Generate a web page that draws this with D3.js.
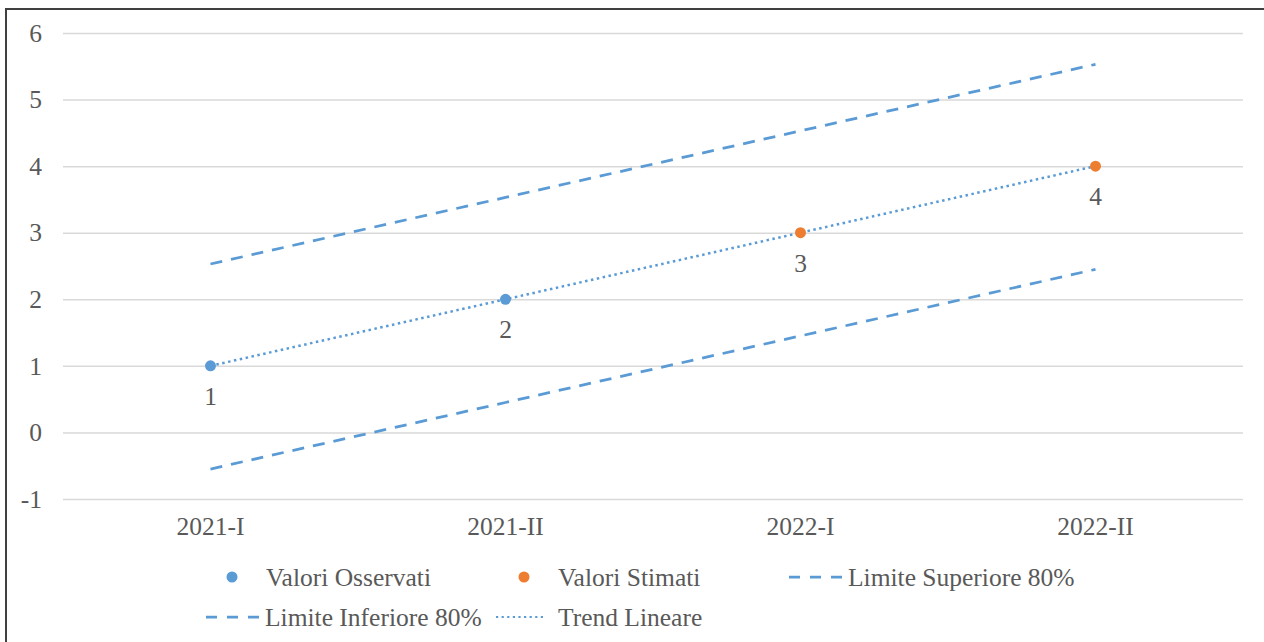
<!DOCTYPE html>
<html>
<head>
<meta charset="utf-8">
<script src="https://cdn.jsdelivr.net/npm/d3@7"></script>
<style>
  body { margin: 0; background: #fff; }
</style>
</head>
<body>
<div id="chart"></div>
<script>
// categories and series
const periods = ["2021-I", "2021-II", "2022-I", "2022-II"]
const observed = [1, 2, null, null]
const estimated = [null, null, 3, 4]
const upper80 = [2.53, 3.53, 4.53, 5.53]
const lower80 = [-0.55, 0.45, 1.45, 2.45]
const trend = [1, 2, 3, 4]
const yTicks = [-1, 0, 1, 2, 3, 4, 5, 6]

const width = 1264, height = 642
const margin = {top: 33, right: 21, bottom: 143, left: 63}

const blue = "#5b9bd5", orange = "#ed7d31"
const serif = "'Liberation Serif', 'DejaVu Serif', serif"
const textColor = "#595959"
const fontSize = "25.5px"

const svg = d3.select("#chart").append("svg")
  .attr("width", width)
  .attr("height", height)
  .style("font-family", serif)

// outer frame (only top and left visible in the picture)
svg.append("path")
  .attr("d", `M6,${height} L6,9 L${width},9`)
  .attr("fill", "none")
  .attr("stroke", "#404040")
  .attr("stroke-width", 2)

const x = d3.scaleBand()
  .domain(periods)
  .range([margin.left, width - margin.right])

const y = d3.scaleLinear()
  .domain([-1, 6])
  .range([height - margin.bottom, margin.top])

const cx = d => x(d) + x.bandwidth() / 2

// gridlines
const yAxis = d3.axisLeft(y)
  .tickValues(yTicks)
  .tickSize(-(width - margin.left - margin.right))
  .tickPadding(21)
  .tickFormat(d => String(d))

const gy = svg.append("g")
  .attr("transform", `translate(${margin.left},0)`)
  .call(yAxis)
gy.select(".domain").remove()
gy.selectAll("line").attr("stroke", "#d9d9d9").attr("stroke-width", 1.5)
gy.selectAll("text").attr("fill", textColor)
  .style("font-family", serif).style("font-size", fontSize)

const xAxis = d3.axisBottom(x).tickSize(0).tickPadding(18)
const gx = svg.append("g")
  .attr("transform", `translate(0,${height - margin.bottom})`)
  .call(xAxis)
gx.select(".domain").remove()
gx.selectAll("text").attr("fill", textColor)
  .style("font-family", serif).style("font-size", fontSize)

const line = d3.line()
  .x((d, i) => cx(periods[i]))
  .y(d => y(d))

// confidence bounds
;[upper80, lower80].forEach(s => {
  svg.append("path")
    .datum(s)
    .attr("d", line)
    .attr("fill", "none")
    .attr("stroke", blue)
    .attr("stroke-width", 2.75)
    .attr("stroke-dasharray", "12,9")
})

// linear trend
svg.append("path")
  .datum(trend)
  .attr("d", line)
  .attr("fill", "none")
  .attr("stroke", blue)
  .attr("stroke-width", 2.5)
  .attr("stroke-dasharray", "2.5,3.5")

// points and labels
function drawPoints(values, color) {
  const pts = values.map((v, i) => ({p: periods[i], v})).filter(d => d.v !== null)
  svg.append("g").selectAll("circle")
    .data(pts)
    .enter()
    .append("circle")
    .attr("cx", d => cx(d.p))
    .attr("cy", d => y(d.v))
    .attr("r", 5.5)
    .attr("fill", color)
  svg.append("g").selectAll("text")
    .data(pts)
    .enter()
    .append("text")
    .attr("x", d => cx(d.p))
    .attr("y", d => y(d.v) + 39)
    .attr("text-anchor", "middle")
    .style("font-family", serif)
    .style("font-size", fontSize)
    .attr("fill", textColor)
    .text(d => d.v)
}
drawPoints(observed, blue)
drawPoints(estimated, orange)

// legend
const legend = svg.append("g")
const items = [
  {label: "Valori Osservati", type: "dot", color: blue, x: 232, y: 577},
  {label: "Valori Stimati", type: "dot", color: orange, x: 524, y: 577},
  {label: "Limite Superiore 80%", type: "dash", x: 789, y: 577},
  {label: "Limite Inferiore 80%", type: "dash", x: 206, y: 617},
  {label: "Trend Lineare", type: "dot-line", x: 496, y: 617}
]
items.forEach(it => {
  const g = legend.append("g")
  let tx
  if (it.type === "dot") {
    g.append("circle").attr("cx", it.x).attr("cy", it.y).attr("r", 5.5).attr("fill", it.color)
    tx = it.x + 34
  } else if (it.type === "dash") {
    g.append("line")
      .attr("x1", it.x).attr("x2", it.x + 53)
      .attr("y1", it.y).attr("y2", it.y)
      .attr("stroke", blue).attr("stroke-width", 2.75)
      .attr("stroke-dasharray", "11,10")
    tx = it.x + 59
  } else {
    g.append("line")
      .attr("x1", it.x).attr("x2", it.x + 50)
      .attr("y1", it.y).attr("y2", it.y)
      .attr("stroke", blue).attr("stroke-width", 2.2)
      .attr("stroke-dasharray", "2.2,3.4")
    tx = it.x + 62
  }
  g.append("text")
    .attr("x", tx)
    .attr("y", it.y)
    .attr("dy", "0.35em")
    .style("font-family", serif)
    .style("font-size", fontSize)
    .attr("fill", textColor)
    .text(it.label)
})
</script>
</body>
</html>
